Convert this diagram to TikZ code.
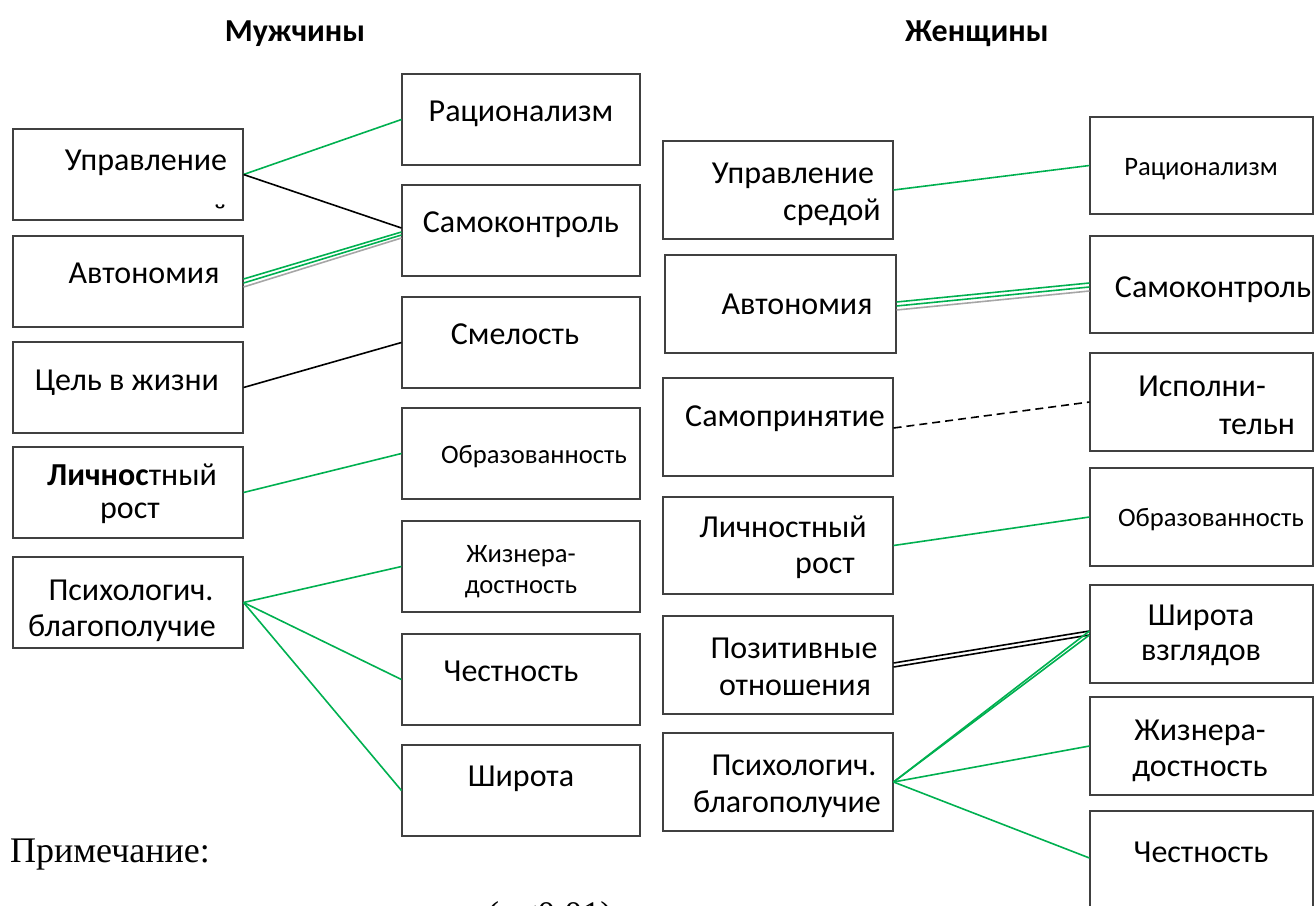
\documentclass[tikz,border=0pt]{standalone}
\usepackage{fontspec}
\setmainfont{Carlito}
\newfontfamily\timesf{Liberation Serif}
\definecolor{grn}{HTML}{00B050}
\definecolor{gry}{HTML}{A6A6A6}
\begin{document}
\begin{tikzpicture}[x=1pt,y=-1pt,
  box/.style={draw=black!75,line width=1.1pt,inner sep=0pt},
  big/.style={anchor=base,inner sep=0pt,font=\fontsize{32}{38}\selectfont},
  small/.style={anchor=base,inner sep=0pt,font=\fontsize{26.6}{31}\selectfont},
  ttl/.style={anchor=base,inner sep=0pt,font=\fontsize{32}{38}\selectfont\bfseries},
  note/.style={anchor=base west,inner sep=0pt,font=\fontsize{36}{41}\selectfont\timesf},
  gline/.style={draw=grn,line width=1.6pt},
  kline/.style={draw=black,line width=1.6pt},
  hline/.style={draw=gry,line width=1.6pt},
  dline/.style={draw=black,line width=1.6pt,dash pattern=on 8pt off 5pt}]
\useasboundingbox (0,0) rectangle (1314,905);

% titles
\node[ttl] (t1) at (295,41) {Мужчины};
\node[ttl] (t2) at (977,41) {Женщины};

% ===== men: left column
\node[box,minimum width=230pt,minimum height=91pt] (mU) at (128,174.5) {};
\node[box,minimum width=230pt,minimum height=91pt] (mA) at (128,281.5) {};
\node[box,minimum width=230pt,minimum height=91pt] (mC) at (128,387.5) {};
\node[box,minimum width=230pt,minimum height=91pt] (mL) at (128,492.5) {};
\node[box,minimum width=230pt,minimum height=91pt] (mP) at (128,602.5) {};
\node[big] (mUt) at (146,170) {Управление};
\begin{scope}
\clip (14,130) rectangle (242,209);
\node[big] (mUt2) at (180,226) {средой};
\end{scope}
\node[big] (mAt) at (144,283) {Автономия};
\node[big] (mCt) at (127,390) {Цель в жизни};
\node[big] (mLt1) at (132,485) {\textbf{Личнос}тный};
\node[big] (mLt2) at (130,518) {рост};
\node[big] (mPt1) at (131,600) {Психологич.};
\node[big] (mPt2) at (122,636) {благополучие};

% ===== men: right column
\node[box,minimum width=238pt,minimum height=91pt] (mR) at (521,119.5) {};
\node[box,minimum width=238pt,minimum height=91pt] (mS) at (521,230.5) {};
\node[box,minimum width=238pt,minimum height=91pt] (mSm) at (521,342.5) {};
\node[box,minimum width=238pt,minimum height=91pt] (mO) at (521,453.5) {};
\node[box,minimum width=238pt,minimum height=91pt] (mZh) at (521,566.5) {};
\node[box,minimum width=238pt,minimum height=91pt] (mCh) at (521,679.5) {};
\node[box,minimum width=238pt,minimum height=91pt] (mSh) at (521,790.5) {};
\node[big] (mRt) at (521,121) {Рационализм};
\node[big] (mSt) at (521,232) {Самоконтроль};
\node[big] (mSmt) at (515,344) {Смелость};
\node[small] (mOt) at (534,463) {Образованность};
\node[small] (mZht1) at (521,562) {Жизнера-};
\node[small] (mZht2) at (521,593) {достность};
\node[big] (mCht) at (511,681) {Честность};
\node[big] (mSht) at (521,786) {Широта};

% ===== women: left column
\node[box,minimum width=230pt,minimum height=98pt] (wU) at (778,190) {};
\node[box,minimum width=231pt,minimum height=98pt] (wA) at (780.5,304) {};
\node[box,minimum width=230pt,minimum height=98pt] (wS) at (778,427) {};
\node[box,minimum width=230pt,minimum height=97pt] (wL) at (778,545.5) {};
\node[box,minimum width=230pt,minimum height=98pt] (wP) at (778,665) {};
\node[box,minimum width=230pt,minimum height=98pt] (wPs) at (778,782) {};
\node[big] (wUt1) at (793,183) {Управление};
\node[big] (wUt2) at (832,220) {средой};
\node[big] (wAt) at (797,314) {Автономия};
\node[big] (wSt) at (785,426) {Самопринятие};
\node[big] (wLt1) at (783,537) {Личностный};
\node[big] (wLt2) at (825,573) {рост};
\node[big] (wPt1) at (794,658) {Позитивные};
\node[big] (wPt2) at (795,695) {отношения};
\node[big] (wPst1) at (794,775) {Психологич.};
\node[big] (wPst2) at (787,812) {благополучие};

% ===== women: right column
\node[box,minimum width=223pt,minimum height=97pt] (wR) at (1201.5,165.5) {};
\node[box,minimum width=223pt,minimum height=97pt] (wSk) at (1201.5,284.5) {};
\node[box,minimum width=223pt,minimum height=98pt] (wI) at (1201.5,402) {};
\node[box,minimum width=223pt,minimum height=98pt] (wO) at (1201.5,517) {};
\node[box,minimum width=223pt,minimum height=98pt] (wSh) at (1201.5,634) {};
\node[box,minimum width=223pt,minimum height=98pt] (wZh) at (1201.5,746) {};
\node[box,minimum width=223pt,minimum height=98pt] (wCh) at (1201.5,860) {};
\node[small] (wRt) at (1201,175) {Рационализм};
\node[big] (wSkt) at (1213,297) {Самоконтроль};
\node[big] (wIt1) at (1202,396) {Исполни-};
\node[big] (wIt2) at (1257,434) {тельн};
\node[small] (wOt) at (1211,526) {Образованность};
\node[big] (wSht1) at (1201,625) {Широта};
\node[big] (wSht2) at (1201,660) {взглядов};
\node[big] (wZht1) at (1200,740) {Жизнера-};
\node[big] (wZht2) at (1200,776) {достность};
\node[big] (wCht) at (1201,862) {Честность};

% note
\node[note] (n1) at (10,862) {Примечание:};
\node[note] (n2) at (487,926) {(\textit{p}<0.01)};

% ===== men connectors
\draw[gline] (mU.east) -- (mR.west);
\draw[kline] (mU.east) -- ([yshift=2.5pt]mS.west);
\draw[gline] ([yshift=2.5pt]mA.east) -- ([yshift=-1.5pt]mS.west);
\draw[gline] ([yshift=-1.5pt]mA.east) -- ([yshift=-4.5pt]mS.west);
\draw[hline] ([yshift=-5.5pt]mA.east) -- ([yshift=-7.5pt]mS.west);
\draw[kline] (mC.east) -- (mSm.west);
\draw[gline] (mL.east) -- (mO.west);
\draw[gline] (mP.east) -- (mZh.west);
\draw[gline] (mP.east) -- (mCh.west);
\draw[gline] (mP.east) -- (mSh.west);

% ===== women connectors
\draw[gline] (wU.east) -- (wR.west);
\draw[gline] ([yshift=2pt]wA.east) -- ([yshift=1.5pt]wSk.west);
\draw[gline] ([yshift=-2pt]wA.east) -- ([yshift=-2.5pt]wSk.west);
\draw[hline] ([yshift=-6pt]wA.east) -- ([yshift=-6.5pt]wSk.west);
\draw[dline] ([yshift=-1pt]wS.east) -- (wI.west);
\draw[gline] (wL.east) -- (wO.west);
\draw[kline] ([yshift=2pt]wP.east) -- ([yshift=3pt]wSh.west);
\draw[kline] ([yshift=-2pt]wP.east) -- ([yshift=-1pt]wSh.west);
\draw[gline] (wPs.east) -- ([yshift=3pt]wSh.west);
\draw[gline] (wPs.east) -- ([yshift=-1pt]wSh.west);
\draw[gline] (wPs.east) -- (wZh.west);
\draw[gline] (wPs.east) -- ([yshift=2pt]wCh.west);
\end{tikzpicture}
\end{document}
